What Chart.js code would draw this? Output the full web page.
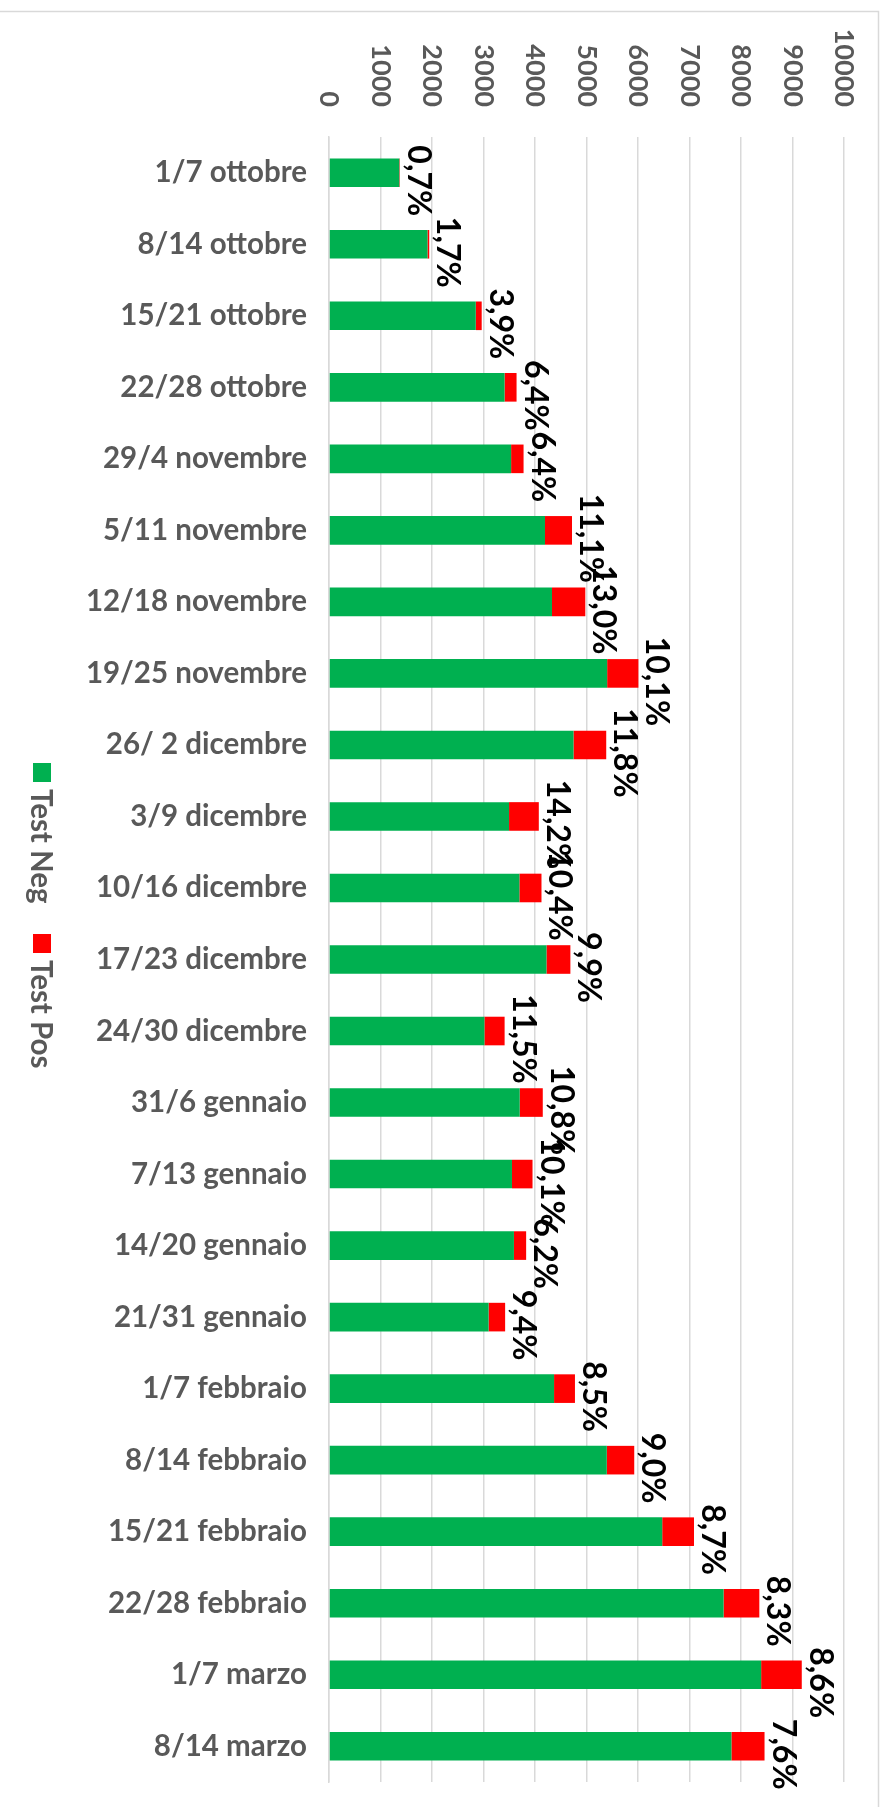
<!DOCTYPE html>
<html>
<head>
<meta charset="utf-8">
<script src="https://cdn.jsdelivr.net/npm/chart.js@4.4.1/dist/chart.umd.min.js"></script>
<style>
  html, body { margin: 0; padding: 0; background: #ffffff; }
  #wrap { position: relative; width: 885px; height: 1807px; }
</style>
</head>
<body>
<div id="wrap"><canvas id="c" width="885" height="1807"></canvas></div>
<script>
const categories = [
  "1/7 ottobre", "8/14 ottobre", "15/21 ottobre", "22/28 ottobre", "29/4 novembre",
  "5/11 novembre", "12/18 novembre", "19/25 novembre", "26/ 2 dicembre", "3/9 dicembre",
  "10/16 dicembre", "17/23 dicembre", "24/30 dicembre", "31/6 gennaio", "7/13 gennaio",
  "14/20 gennaio", "21/31 gennaio", "1/7 febbraio", "8/14 febbraio", "15/21 febbraio",
  "22/28 febbraio", "1/7 marzo", "8/14 marzo"
];
const testNeg = [
  1365, 1913, 2850, 3409, 3536,
  4194, 4330, 5401, 4748, 3496,
  3697, 4223, 3018, 3703, 3553,
  3591, 3099, 4370, 5394, 6470,
  7662, 8391, 7814
];
const testPos = [
  10, 33, 115, 233, 242,
  524, 647, 607, 635, 578,
  429, 464, 392, 448, 399,
  237, 321, 406, 533, 617,
  694, 789, 643
];
const posRateLabels = [
  "0,7%", "1,7%", "3,9%", "6,4%", "6,4%",
  "11,1%", "13,0%", "10,1%", "11,8%", "14,2%",
  "10,4%", "9,9%", "11,5%", "10,8%", "10,1%",
  "6,2%", "9,4%", "8,5%", "9,0%", "8,7%",
  "8,3%", "8,6%", "7,6%"
];
const xMin = 0, xMax = 10000, xStep = 1000;

const GRAY = "#595959";
const GRID = "#d9d9d9";
const FONT = "Lato, 'Open Sans', sans-serif";

const frame = {
  id: "frame",
  beforeDraw(chart) {
    const ctx = chart.ctx;
    ctx.save();
    ctx.fillStyle = "#ffffff";
    ctx.fillRect(0, 0, chart.width, chart.height);
    ctx.strokeStyle = GRID;
    ctx.lineWidth = 1.5;
    ctx.beginPath();
    ctx.moveTo(0, 11.5);
    ctx.lineTo(878.5, 11.5);
    ctx.lineTo(878.5, chart.height + 2);
    ctx.stroke();
    ctx.restore();
  }
};

const topTicks = {
  id: "topTicks",
  afterDraw(chart) {
    const ctx = chart.ctx;
    const sx = chart.scales.x;
    ctx.save();
    ctx.fillStyle = GRAY;
    ctx.font = "bold 27px " + FONT;
    ctx.textAlign = "right";
    ctx.textBaseline = "middle";
    sx.ticks.forEach(t => {
      const px = sx.getPixelForValue(t.value);
      ctx.save();
      ctx.translate(px, 107);
      ctx.rotate(Math.PI / 2);
      ctx.fillText(String(t.value), 0, 0);
      ctx.restore();
    });
    ctx.restore();
  }
};

const rateLabels = {
  id: "rateLabels",
  afterDatasetsDraw(chart) {
    const ctx = chart.ctx;
    const meta = chart.getDatasetMeta(1);
    ctx.save();
    ctx.fillStyle = "#000000";
    ctx.font = "bold 32px " + FONT;
    ctx.textAlign = "center";
    ctx.textBaseline = "alphabetic";
    meta.data.forEach((bar, i) => {
      ctx.save();
      ctx.translate(bar.x + 8, bar.y + 8);
      ctx.rotate(Math.PI / 2);
      ctx.fillText(posRateLabels[i], 0, 0);
      ctx.restore();
    });
    ctx.restore();
  }
};

const sideLegend = {
  id: "sideLegend",
  afterDraw(chart) {
    const ctx = chart.ctx;
    const ds = chart.data.datasets;
    const starts = [763, 934];
    ctx.save();
    ctx.font = "bold 29.5px " + FONT;
    ctx.textAlign = "left";
    ctx.textBaseline = "middle";
    ds.forEach((d, i) => {
      const y0 = starts[i];
      ctx.fillStyle = d.backgroundColor;
      ctx.fillRect(33, y0, 18, 19);
      ctx.fillStyle = GRAY;
      ctx.save();
      ctx.translate(41, y0 + 26);
      ctx.rotate(Math.PI / 2);
      ctx.fillText(d.label, 0, 0);
      ctx.restore();
    });
    ctx.restore();
  }
};

new Chart(document.getElementById("c"), {
  type: "bar",
  data: {
    labels: categories,
    datasets: [
      { label: "Test Neg", data: testNeg, backgroundColor: "#00b050", borderWidth: 0, barPercentage: 0.8, categoryPercentage: 0.5 },
      { label: "Test Pos", data: testPos, backgroundColor: "#ff0000", borderWidth: 0, barPercentage: 0.8, categoryPercentage: 0.5 }
    ]
  },
  options: {
    indexAxis: "y",
    responsive: false,
    animation: false,
    devicePixelRatio: 1,
    layout: { padding: { top: 0, left: 0, right: 41, bottom: 25 } },
    plugins: {
      legend: { display: false },
      tooltip: { enabled: false }
    },
    scales: {
      x: {
        position: "top",
        stacked: true,
        min: xMin,
        max: xMax,
        ticks: { display: false, stepSize: xStep },
        grid: { color: GRID, lineWidth: 1.5, drawTicks: false },
        border: { display: false },
        afterFit(s) { s.height = 137; s.paddingLeft = 0; s.paddingRight = 0; }
      },
      y: {
        stacked: true,
        ticks: {
          color: GRAY,
          font: { family: FONT, size: 29.5, weight: "bold" },
          padding: 22,
          autoSkip: false
        },
        grid: { display: false, drawTicks: false },
        border: { display: true, color: GRID, width: 1.5 },
        afterFit(s) { s.width = 329; s.paddingTop = 0; s.paddingBottom = 0; }
      }
    }
  },
  plugins: [frame, topTicks, rateLabels, sideLegend]
});
</script>
</body>
</html>
